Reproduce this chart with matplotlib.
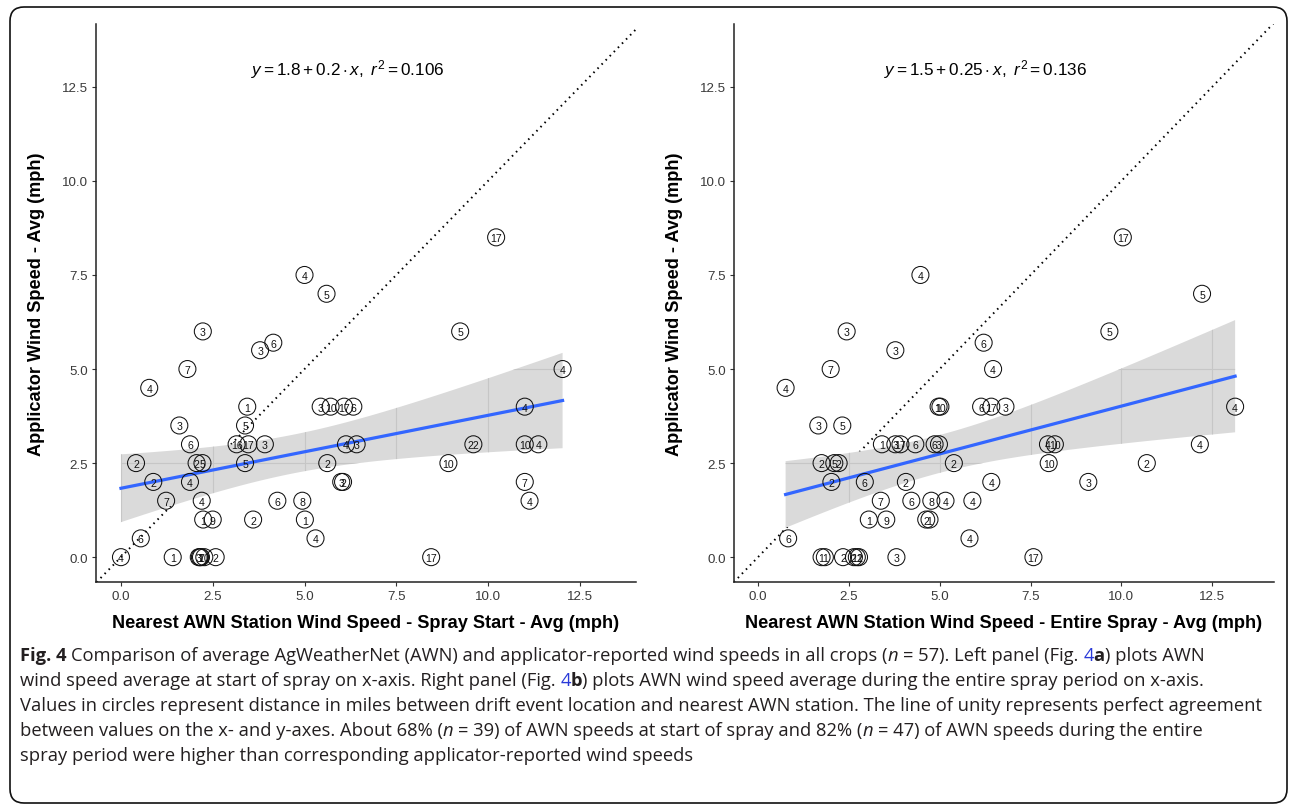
import matplotlib
matplotlib.use('Agg')
import matplotlib.pyplot as plt
import numpy as np
from matplotlib.patches import Polygon, FancyBboxPatch
from matplotlib.transforms import IdentityTransform
from matplotlib import font_manager

# ---- data ----
# left panel: AWN speed at spray start vs applicator speed, circle label = miles to station
startX = [10.22, 5.0, 5.6, 2.23, 9.24, 4.15, 3.79, 1.81, 12.03, 0.77,
          3.44, 5.44, 5.71, 6.08, 6.33, 11.0, 1.59, 3.38,
          1.88, 3.15, 3.47, 3.92, 6.13, 6.42, 9.6, 11.0, 11.37,
          0.41, 2.06, 2.22, 3.38, 5.62, 8.92,
          0.88, 1.88, 6.0, 6.05, 11.0,
          1.23, 2.2, 4.26, 4.94, 11.13,
          2.24, 2.5, 3.6, 5.01,
          0.54, 5.3,
          0.0, 1.41, 2.12, 2.15, 2.18, 2.27, 2.58, 8.45]
startY = [8.5, 7.5, 7.0, 6.0, 6.0, 5.7, 5.5, 5.0, 5.0, 4.5,
          4.0, 4.0, 4.0, 4.0, 4.0, 4.0, 3.5, 3.5,
          3.0, 3.0, 3.0, 3.0, 3.0, 3.0, 3.0, 3.0, 3.0,
          2.5, 2.5, 2.5, 2.5, 2.5, 2.5,
          2.0, 2.0, 2.0, 2.0, 2.0,
          1.5, 1.5, 1.5, 1.5, 1.5,
          1.0, 1.0, 1.0, 1.0,
          0.5, 0.5,
          0.0, 0.0, 0.0, 0.0, 0.0, 0.0, 0.0, 0.0]
startLab = ["17", "4", "5", "3", "5", "6", "3", "7", "4", "4",
            "1", "3", "10", "17", "6", "4", "3", "5",
            "6", "16", "17", "3", "4", "3", "22", "10", "4",
            "2", "2", "5", "5", "2", "10",
            "2", "4", "3", "2", "7",
            "7", "4", "6", "8", "4",
            "1", "9", "2", "1",
            "6", "4",
            "4", "1", "3", "1", "7", "10", "2", "17"]

# right panel: AWN speed over the entire spray
entireX = [10.04, 4.47, 12.22, 2.44, 9.67, 6.21, 3.78, 2.0, 6.47, 0.76,
           4.97, 5.02, 6.14, 6.42, 6.81, 13.13, 1.66, 2.32,
           3.41, 3.78, 3.92, 4.33, 4.86, 4.98, 7.98, 8.17, 12.16,
           1.75, 2.1, 2.22, 5.39, 8.0, 10.7,
           2.02, 2.94, 4.07, 6.42, 9.09,
           3.38, 4.22, 4.77, 5.16, 5.9,
           3.05, 3.53, 4.63, 4.72,
           0.83, 5.82,
           1.75, 1.84, 2.34, 2.64, 2.72, 2.78, 3.81, 7.58]
entireY = [8.5, 7.5, 7.0, 6.0, 6.0, 5.7, 5.5, 5.0, 5.0, 4.5,
           4.0, 4.0, 4.0, 4.0, 4.0, 4.0, 3.5, 3.5,
           3.0, 3.0, 3.0, 3.0, 3.0, 3.0, 3.0, 3.0, 3.0,
           2.5, 2.5, 2.5, 2.5, 2.5, 2.5,
           2.0, 2.0, 2.0, 2.0, 2.0,
           1.5, 1.5, 1.5, 1.5, 1.5,
           1.0, 1.0, 1.0, 1.0,
           0.5, 0.5,
           0.0, 0.0, 0.0, 0.0, 0.0, 0.0, 0.0, 0.0]
entireLab = ["17", "4", "5", "3", "5", "6", "3", "7", "4", "4",
             "1", "10", "6", "17", "3", "4", "3", "5",
             "1", "3", "17", "6", "6", "3", "4", "10", "4",
             "2", "5", "2", "2", "10", "2",
             "2", "6", "2", "4", "3",
             "7", "6", "8", "4", "4",
             "1", "9", "2", "1",
             "6", "4",
             "1", "1", "2", "2", "12", "1", "3", "17"]

eqText = [r"$y = 1.8 + 0.2 \cdot x,\ r^2 = 0.106$",
          r"$y = 1.5 + 0.25 \cdot x,\ r^2 = 0.136$"]
xTitles = ["Nearest AWN Station Wind Speed - Spray Start - Avg (mph)",
           "Nearest AWN Station Wind Speed - Entire Spray - Avg (mph)"]
yTitle = "Applicator Wind Speed - Avg (mph)"
ticks = [0.0, 2.5, 5.0, 7.5, 10.0, 12.5]
tT = 2.004  # t quantile, 95%, df=55

N = {}
B = {'weight': 'bold'}
I = {'style': 'italic'}
BL = {'color': '#2a3ad8'}
captionLines = [
    [("Fig. 4", B), (" Comparison of average AgWeatherNet (AWN) and applicator-reported wind speeds in all crops (", N),
     ("n", I), (" = 57). Left panel (Fig. ", N), ("4", BL), ("a", B), (") plots AWN", N)],
    [("wind speed average at start of spray on x-axis. Right panel (Fig. ", N), ("4", BL), ("b", B),
     (") plots AWN wind speed average during the entire spray period on x-axis.", N)],
    [("Values in circles represent distance in miles between drift event location and nearest AWN station. The line of unity represents perfect agreement", N)],
    [("between values on the x- and y-axes. About 68% (", N), ("n", I), (" = 39) of AWN speeds at start of spray and 82% (", N),
     ("n", I), (" = 47) of AWN speeds during the entire", N)],
    [("spray period were higher than corresponding applicator-reported wind speeds", N)],
]

W, H = 1292, 812
plt.rcParams['font.family'] = ['Liberation Sans', 'DejaVu Sans']
plt.rcParams['mathtext.fontset'] = 'custom'
plt.rcParams['mathtext.rm'] = 'Liberation Sans'
plt.rcParams['mathtext.it'] = 'Liberation Sans:italic'
plt.rcParams['mathtext.bf'] = 'Liberation Sans:bold'

# caption font: a condensed face with a regular/light weight if there is one
capFam, capWeight = 'Open Sans', 'normal'
faces = {}
for f in font_manager.fontManager.ttflist:
    faces.setdefault(f.name, []).append(f.weight)
if 'Liberation Sans Narrow' in faces:
    capFam, capWeight = 'Liberation Sans Narrow', 'normal'
elif 'Open Sans Condensed' in faces:
    light = [w for w in faces['Open Sans Condensed'] if (w if isinstance(w, int) else 400) < 600]
    if light:
        capFam, capWeight = 'Open Sans Condensed', max(light)

fig = plt.figure(figsize=(W / 100, H / 100), dpi=100)
fig.add_artist(FancyBboxPatch((10, 8), 1277, 796, boxstyle="round,pad=0,rounding_size=14",
                              transform=IdentityTransform(), fill=False, lw=1.2, ec='#111111'))


def panel(axpos, xs, ys, labs, xlim, eq, eqx, xtitle):
    ax = fig.add_axes(axpos)
    xs = np.array(xs)
    ys = np.array(ys)
    ax.set_xlim(*xlim)
    ax.set_ylim(-0.66, 14.17)

    # unity line
    ax.plot([-1, 15], [-1, 15], color='black', lw=1.4, linestyle=(0, (0.8, 2.2)), zorder=1)

    # OLS fit and 95% band
    n = len(xs)
    mx, my = xs.mean(), ys.mean()
    sxx = ((xs - mx) ** 2).sum()
    b = ((xs - mx) * (ys - my)).sum() / sxx
    a = my - b * mx
    s = np.sqrt(((ys - a - b * xs) ** 2).sum() / (n - 2))
    gx = np.linspace(xs.min(), xs.max(), 80)
    fit = a + b * gx
    se = s * np.sqrt(1.0 / n + (gx - mx) ** 2 / sxx)
    lo, hi = fit - tT * se, fit + tT * se
    band = Polygon(np.column_stack([np.r_[gx, gx[::-1]], np.r_[lo, hi[::-1]]]),
                   closed=True, fc='#dadada', ec='none', zorder=2)
    ax.add_patch(band)
    for t in ticks:
        ln = ax.axvline(t, color='#c6c6c6', lw=0.8, zorder=2.1)
        ln.set_clip_path(band)
        ln = ax.axhline(t, color='#c6c6c6', lw=0.8, zorder=2.1)
        ln.set_clip_path(band)
    ax.plot(gx, fit, color='#3366ff', lw=2.3, zorder=3)

    # circled labels
    ax.scatter(xs, ys, s=150, facecolors='none', edgecolors='#111111', linewidths=0.75, zorder=4)
    for x, y, l in zip(xs, ys, labs):
        ax.text(x, y, l, ha='center', va='center_baseline', fontsize=7.6, color='#111111', zorder=5)

    ax.text(eqx, 12.98, eq, ha='center', va='center', fontsize=12.3, color='black')

    for sp in ['top', 'right']:
        ax.spines[sp].set_visible(False)
    for sp in ['left', 'bottom']:
        ax.spines[sp].set_linewidth(1.1)
        ax.spines[sp].set_color('#222222')
    ax.set_xticks(ticks)
    ax.set_yticks(ticks)
    ax.set_xticklabels(["%.1f" % t for t in ticks])
    ax.set_yticklabels(["%.1f" % t for t in ticks])
    ax.tick_params(direction='out', length=3, width=0.8, color='#333333', labelsize=9.6,
                   labelcolor='#3a3a3a', pad=2.5)
    ax.set_xlabel(xtitle, fontsize=13.1, fontweight='bold', va='center')
    ax.xaxis.set_label_coords(0.5, (583 - 624) / 558)
    ax.set_ylabel(yTitle, fontsize=13.1, fontweight='bold', va='center')
    ax.yaxis.set_label_coords(-0.111, 0.5)
    return ax


panel([96 / W, 1 - 583 / H, 540 / W, 558 / H], startX, startY, startLab, (-0.68, 14.03), eqText[0], 6.19, xTitles[0])
panel([734 / W, 1 - 583 / H, 540 / W, 558 / H], entireX, entireY, entireLab, (-0.66, 14.2), eqText[1], 6.25, xTitles[1])

# ---- caption, drawn as runs of styled text ----
rend = fig.canvas.get_renderer()


def textW(s, size, st):
    kw = dict(st)
    kw.setdefault('weight', capWeight)
    kw.pop('color', None)
    t = fig.text(0, 0, s, fontsize=size, family=capFam, **kw)
    w = t.get_window_extent(rend).width
    t.remove()
    return w


def drawRuns(runs, x0, yb, size, draw=True):
    x = x0
    sw = textW("a a", size, N) - textW("aa", size, N)
    for txt, st in runs:
        lead = len(txt) - len(txt.lstrip(' '))
        trail = len(txt) - len(txt.rstrip(' '))
        core = txt.strip(' ')
        x += lead * sw
        kw = dict(st)
        col = kw.pop('color', '#231f20')
        kw.setdefault('weight', capWeight)
        t = fig.text(x / W, 1 - yb / H, core, fontsize=size, family=capFam, color=col,
                     ha='left', va='baseline', **kw)
        x += t.get_window_extent(rend).width
        if not draw:
            t.remove()
        x += trail * sw
    return x - x0


# longest caption line should end near x=1256, like the reference
widest = max(drawRuns(r, 20, 0, 12.0, draw=False) for r in captionLines)
capSize = 12.0 * 1236 / widest
for i, runs in enumerate(captionLines):
    drawRuns(runs, 20, 661 + 25 * i, capSize)

fig.savefig('out.png', dpi=100)
